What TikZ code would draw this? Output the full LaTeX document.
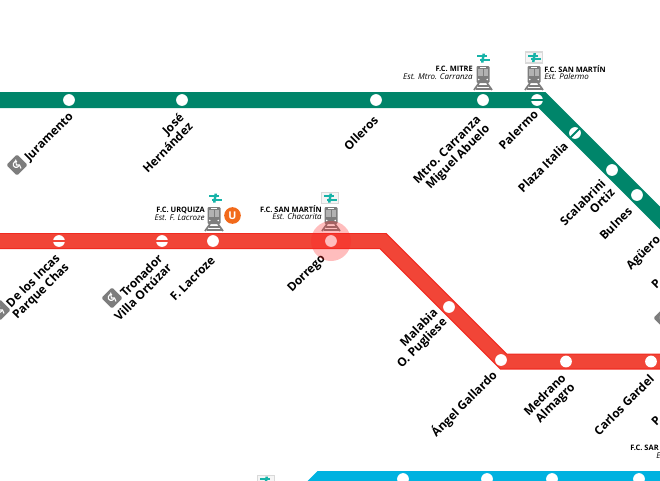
\documentclass[tikz,border=0pt]{standalone}
\usepackage{fontspec}
\setmainfont{Open Sans}
\usetikzlibrary{positioning, calc}
\pgfdeclarelayer{lines}
\pgfsetlayers{lines,main}
\definecolor{lineD}{HTML}{00856A}
\definecolor{lineB}{HTML}{F14537}
\definecolor{lineBedge}{HTML}{F02A20}
\definecolor{lineH}{HTML}{00B2E0}
\definecolor{iconGrey}{HTML}{7D7D7D}
\definecolor{transferTeal}{HTML}{17B3A8}
\definecolor{urquizaOrange}{HTML}{F26A1B}
\tikzset{
	stn/.style={circle, fill=white, minimum size=8.8, inner sep=0pt},
	lbl/.style={anchor=east, rotate=45, align=right, font=\fontsize{8.9}{9.6}\selectfont\bfseries, inner sep=0pt},
	railname/.style={font=\fontsize{5.6}{6}\selectfont\bfseries, inner sep=0pt},
	railest/.style={font=\fontsize{6}{6}\selectfont\itshape, inner sep=0pt},
	train/.pic={
		\fill[iconGrey, rounded corners=0.8] (-6.5,-11) rectangle (6.5,6);
		\fill[black!30] (-5,-8) rectangle (5,-1);
		\fill[iconGrey] (-0.4,-8) rectangle (0.4,-1);
		\fill[white] (-3,-10) rectangle (3,-9.2);
		\fill[white] (-4.2,2.5) circle (0.9);
		\fill[white] (4.2,2.5) circle (0.9);
		\draw[iconGrey, line width=1.3] (-4,6) -- (-9,13);
		\draw[iconGrey, line width=1.3] (4,6) -- (9,13);
		\draw[iconGrey, line width=1.3] (-5.5,9) -- (5.5,9);
		\draw[iconGrey, line width=1.3] (-7.5,12) -- (7.5,12);
	},
	transfer/.pic={
		\fill[transferTeal] (-6.5,-2.6) -- (3.5,-2.6) -- (3.5,-0.8) -- (-6.5,-0.8) -- cycle;
		\fill[transferTeal] (-3.5,0.8) -- (6.5,0.8) -- (6.5,2.6) -- (-3.5,2.6) -- cycle;
		\fill[transferTeal] (-2,4.5) -- (0.5,4.5) -- (2,-4.5) -- (-0.5,-4.5) -- cycle;
	},
	framedtransfer/.pic={
		\draw[black!15, fill=black!4, line width=0.8] (-8.5,-5.5) rectangle (8.5,5.5);
		\pic {transfer};
	},
	chair/.pic={
		\fill[iconGrey, rounded corners=1, rotate=45] (-7.5,-7.5) rectangle (7.5,7.5);
		\draw[white, line width=0.8] (2,0.5) arc (20:290:3);
		\draw[white, line width=0.8] (-1.2,-3.5) -- (-0.6,0) -- (2.5,0) -- (4,3.5);
		\fill[white] (-1.3,-4.8) circle (0.9);
	}
}
\begin{document}
\begin{tikzpicture}[x=0.75pt, y=-0.75pt]
	\useasboundingbox (0,0) rectangle (660,480);
	\clip (0,0) rectangle (660,480);

	\coordinate (dWest) at (-20,100);
	\coordinate (dBend) at (542,100);
	\coordinate (dEast) at (700,258);
	\coordinate (bWest) at (-20,241);
	\coordinate (bBend) at (383,241);
	\coordinate (bLow) at (503.5,361.5);
	\coordinate (bEast) at (700,361.5);
	\coordinate (hWest) at (296,504);
	\coordinate (hBend) at (321,479);
	\coordinate (hEast) at (700,479);

	\node (juramento) at (69,100) [stn] {};
	\node (jose) at (182,100) [stn] {};
	\node (olleros) at (376,100) [stn] {};
	\node (carranza) at (483,100) [stn] {};
	\node (palermo) at (537,100) [stn] {};
	\node (plaza) at (575,133) [stn] {};
	\node (scalabrini) at (612,170) [stn] {};
	\node (bulnes) at (637,195) [stn] {};
	\node (incas) at (59,241) [stn] {};
	\node (tronador) at (162,241) [stn] {};
	\node (lacroze) at (213,241) [stn] {};
	\node (dorrego) at (331,241) [stn] {};
	\node (malabia) at (449,307) [stn] {};
	\node (gallardo) at (501,360) [stn] {};
	\node (medrano) at (566,361.5) [stn] {};
	\node (gardel) at (651,361.5) [stn] {};
	\node (blueA) at (403,479) [stn] {};
	\node (blueB) at (487,479) [stn] {};
	\node (blueC) at (552,479) [stn] {};
	\node (blueD) at (639,479) [stn] {};

	\begin{pgfonlayer}{lines}
		\draw[lineD, line width=12] (dWest) -- (dBend) -- (dEast);
		\draw[lineBedge, line width=12] (bWest) -- (bBend) -- (bLow) -- (bEast);
		\draw[lineB, line width=10.2] (bWest) -- (bBend) -- (bLow) -- (bEast);
		\draw[lineH, line width=12] (hWest) -- (hBend) -- (hEast);
	\end{pgfonlayer}

	\draw[lineD, line width=1.5] (palermo.west) -- (palermo.east);
	\draw[lineD, line width=1.5] (plaza.south west) -- (plaza.north east);
	\draw[lineB, line width=1.5] (incas.west) -- (incas.east);
	\draw[lineB, line width=1.5] (tronador.west) -- (tronador.east);

	\pic at (483,77) {train};
	\pic at (534,77) {train};
	\pic at (214,218) {train};
	\pic at (331,218) {train};
	\pic at (483,58) {transfer};
	\pic at (534,57.5) {framedtransfer};
	\pic at (215,198) {transfer};
	\pic at (330,198) {framedtransfer};
	\pic at (266,481) {framedtransfer};

	\node (urquiza) at (232.5,215.5) [circle, fill=urquizaOrange, text=white, minimum size=12.5, inner sep=0pt, font=\fontsize{8}{8}\selectfont\bfseries] {U};

	\node (mitreName) at (473,69) [railname, anchor=east] {F.C. MITRE};
	\node (mitreEst) at (473,77) [railest, anchor=east] {Est. Mtro. Carranza};
	\node (palermoName) at (544,69) [railname, anchor=west] {F.C. SAN MARTÍN};
	\node (palermoEst) at (544,77) [railest, anchor=west] {Est. Palermo};
	\node (urquizaName) at (205,210) [railname, anchor=east] {F.C. URQUIZA};
	\node (urquizaEst) at (205,218) [railest, anchor=east] {Est. F. Lacroze};
	\node (chacaName) at (322,209) [railname, anchor=east] {F.C. SAN MARTÍN};
	\node (chacaEst) at (322,217) [railest, anchor=east] {Est. Chacarita};
	\node (sarName) at (630,448) [railname, anchor=west] {F.C. SAR};
	\node (sarEst) at (656,456) [railest, anchor=west] {E};

	\node (juramentoLbl) at (72,115) [lbl] {Juramento};
	\node (joseLbl) at (186,120) [lbl] {José\\Hernández};
	\node (ollerosLbl) at (376,118) [lbl] {Olleros};
	\node (carranzaLbl) at (484,123) [lbl] {Mtro. Carranza\\Miguel Abuelo};
	\node (palermoLbl) at (536,112) [lbl] {Palermo};
	\node (plazaLbl) at (566,144) [lbl] {Plaza Italia};
	\node (scalabriniLbl) at (608,186) [lbl] {Scalabrini\\Ortiz};
	\node (bulnesLbl) at (630,209) [lbl] {Bulnes};
	\node (agueroLbl) at (659,238) [lbl] {Agüero};
	\node (incasLbl) at (63,261) [lbl] {De los Incas\\Parque Chas};
	\node (tronadorLbl) at (165,261) [lbl] {Tronador\\Villa Ortúzar};
	\node (lacrozeLbl) at (213,258) [lbl] {F. Lacroze};
	\node (dorregoLbl) at (324,257) [lbl] {Dorrego};
	\node (malabiaLbl) at (441,316) [lbl] {Malabia\\O. Pugliese};
	\node (gallardoLbl) at (495,373) [lbl] {Ángel Gallardo};
	\node (medranoLbl) at (569,381) [lbl] {Medrano\\Almagro};
	\node (gardelLbl) at (652,377) [lbl] {Carlos Gardel};
	\node (pA) at (656,284) [lbl, anchor=center] {P};
	\node (pB) at (656,421) [lbl, anchor=center] {P};

	\pic at (17,165) {chair};
	\pic at (112,298) {chair};
	\pic at (0,310) {chair};
	\pic at (664,318) {chair};

	\fill[red!85!white, opacity=0.3] (dorrego) circle (20);
\end{tikzpicture}
\end{document}
